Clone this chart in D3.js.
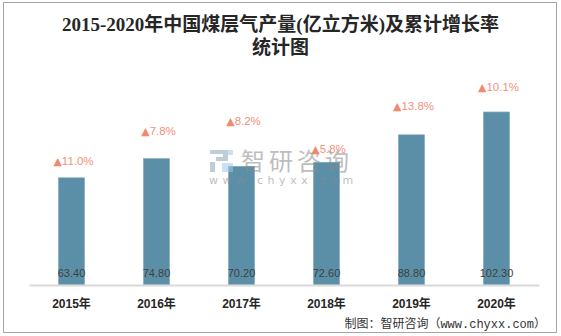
<!DOCTYPE html>
<html><head><meta charset="utf-8">
<script src="https://cdn.jsdelivr.net/npm/d3@7"></script>
<style>
html,body{margin:0;padding:0;background:#fff;}
svg{display:block;}
</style></head>
<body>
<script>
const years = ["2015年","2016年","2017年","2018年","2019年","2020年"];
const production = [63.40, 74.80, 70.20, 72.60, 88.80, 102.30];
const growth = [11.0, 7.8, 8.2, 5.8, 13.8, 10.1];
// hidden anchor series (in production units) where the growth labels sit
const growthAnchor = [73.4, 91.1, 97.0, 80.5, 105.9, 117.2];
const titleLines = ["2015-2020年中国煤层气产量(亿立方米)及累计增长率", "统计图"];
const source = "制图：智研咨询（www.chyxx.com）";

const W = 561, H = 336;
const svg = d3.select("body").append("svg").attr("width", W).attr("height", H);

svg.append("rect").attr("x", 3.5).attr("y", 2.5).attr("width", 553).attr("height", 330)
  .attr("fill", "#fff").attr("stroke", "#a6a6a6").attr("stroke-width", 1);

svg.selectAll("text.title").data(titleLines).join("text")
  .attr("class", "title")
  .attr("x", 280.5).attr("y", (d, i) => 31 + i * 23)
  .attr("text-anchor", "middle")
  .attr("font-family", "'Liberation Serif','Noto Sans CJK SC',serif")
  .attr("font-size", 19).attr("font-weight", 600).attr("fill", "#262626")
  .text(d => d);

const x = d3.scaleBand().domain(years).range([29, 539]).paddingInner(0.69).paddingOuter(0.345);
const y = d3.scaleLinear().domain([0, 120]).range([285, 82]);

// bars
svg.selectAll("rect.bar").data(production).join("rect")
  .attr("class", "bar")
  .attr("x", (d, i) => x(years[i]))
  .attr("width", x.bandwidth())
  .attr("y", d => y(d))
  .attr("height", d => y(0) - y(d))
  .attr("fill", "#5b8fa7").attr("stroke", "#8fb3c4").attr("stroke-width", 0.6);

// axis
const xAxis = svg.append("g").attr("transform", `translate(0,${y(0)})`)
  .call(d3.axisBottom(x).tickSize(0).tickPadding(14));
xAxis.select(".domain").attr("stroke", "#d9d9d9").attr("stroke-width", 2);
xAxis.selectAll("text").attr("font-family", "'Liberation Sans','Noto Sans CJK SC',sans-serif")
  .attr("font-size", 12).attr("font-weight", "bold").attr("fill", "#262626");

// value labels inside bars near base
svg.selectAll("text.val").data(production).join("text")
  .attr("class", "val")
  .attr("x", (d, i) => x(years[i]) + x.bandwidth() / 2)
  .attr("y", y(0) - 8)
  .attr("text-anchor", "middle")
  .attr("font-family", "'Liberation Sans',sans-serif")
  .attr("font-size", 11).attr("fill", "#404040")
  .text(d => d.toFixed(2));

// watermark
const wm = svg.append("g").attr("opacity", 0.55);
wm.append("path").attr("d", "M210,150 h18 v11 h-12 v-4 h7 v-3 h-13 z M210,162 h5 v10 h-5 z").attr("fill", "#8fa3bf");
wm.append("path").attr("d", "M228,150 h5 v5 h-5 z M222,163 h11 v9 h-11 z").attr("fill", "#9ec9e8");
wm.append("text").attr("x", 241).attr("y", 170)
  .attr("font-family", "'Noto Sans CJK SC',sans-serif").attr("font-size", 24)
  .attr("letter-spacing", 4).attr("fill", "#8a8a8a").text("智研咨询");
wm.append("text").attr("x", 209).attr("y", 184)
  .attr("font-family", "'DejaVu Sans',sans-serif").attr("font-size", 11)
  .attr("letter-spacing", 4.6).attr("fill", "#8a8a8a").text("www.chyxx.com");

// growth labels
const gl = svg.selectAll("text.gr").data(growth).join("text")
  .attr("class", "gr")
  .attr("x", (d, i) => x(years[i]) + x.bandwidth() / 2 + 2)
  .attr("y", (d, i) => y(growthAnchor[i]) + 4)
  .attr("text-anchor", "middle")
  .attr("font-family", "'Liberation Sans',sans-serif")
  .attr("font-size", 11.5).attr("fill", "#f4907a");
gl.append("tspan").attr("font-family", "'DejaVu Sans',sans-serif").attr("font-size", 11).attr("fill", "#f08a6c").text("▲");
gl.append("tspan").text(d => d.toFixed(1) + "%");

// source
svg.append("text").attr("x", 546).attr("y", 328).attr("text-anchor", "end")
  .attr("font-family", "'Liberation Mono','Noto Sans CJK SC',monospace")
  .attr("font-size", 12).attr("fill", "#333").text(source);
</script>
</body></html>
